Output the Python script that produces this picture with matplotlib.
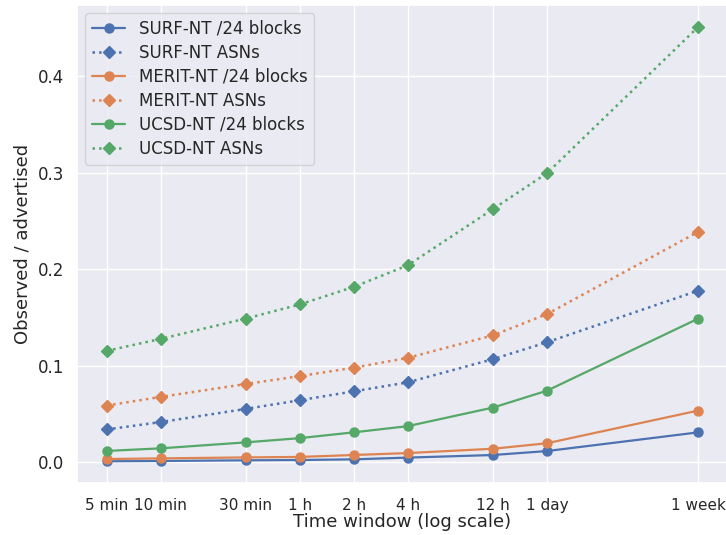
import matplotlib
matplotlib.use("Agg")
import matplotlib.pyplot as plt
import seaborn as sns
from matplotlib.ticker import NullLocator

sns.set_theme(style="darkgrid")
plt.rcParams['font.family'] = ['DejaVu Sans']

# Time windows in minutes
windows_min = [5, 10, 30, 60, 120, 240, 720, 1440, 10080]
window_labels = ["5 min", "10 min", "30 min", "1 h", "2 h", "4 h", "12 h", "1 day", "1 week"]

surf_blocks = [0.001, 0.0013, 0.002, 0.0023, 0.003, 0.0048, 0.0075, 0.0116, 0.031]
surf_asns = [0.034, 0.0416, 0.0553, 0.0643, 0.0735, 0.0828, 0.1069, 0.1244, 0.178]
merit_blocks = [0.0033, 0.004, 0.005, 0.0055, 0.0075, 0.0095, 0.014, 0.0197, 0.0536]
merit_asns = [0.0588, 0.0677, 0.0811, 0.0893, 0.098, 0.1082, 0.1316, 0.1536, 0.239]
ucsd_blocks = [0.0117, 0.0144, 0.0206, 0.025, 0.031, 0.0374, 0.0567, 0.0742, 0.149]
ucsd_asns = [0.1155, 0.1278, 0.149, 0.1636, 0.1818, 0.2041, 0.2626, 0.2997, 0.4515]

pal = sns.color_palette("deep")

fig = plt.figure(figsize=(7.26, 5.35), dpi=100)
ax = fig.add_axes([77 / 726, (535 - 483) / 535, (728 - 77) / 726, (483 - 5) / 535])

series = [
    ("SURF-NT /24 blocks", surf_blocks, pal[0], "-", "o"),
    ("SURF-NT ASNs", surf_asns, pal[0], ":", "D"),
    ("MERIT-NT /24 blocks", merit_blocks, pal[1], "-", "o"),
    ("MERIT-NT ASNs", merit_asns, pal[1], ":", "D"),
    ("UCSD-NT /24 blocks", ucsd_blocks, pal[2], "-", "o"),
    ("UCSD-NT ASNs", ucsd_asns, pal[2], ":", "D"),
]
for label, vals, color, ls, mk in series:
    ax.plot(windows_min, vals, linestyle=ls, marker=mk, color=color,
            linewidth=1.8 if ls == ":" else 1.6, markersize=6.5, label=label)

ax.set_xscale("log")
ax.set_xticks(windows_min)
ax.set_xticklabels(window_labels)
ax.xaxis.set_minor_locator(NullLocator())
ax.set_yticks([0.0, 0.1, 0.2, 0.3, 0.4])
ax.tick_params(axis="x", labelsize=11, pad=5)
ax.tick_params(axis="y", labelsize=12)
ax.set_xlabel("Time window (log scale)", fontsize=13, labelpad=0)
ax.set_ylabel("Observed / advertised", fontsize=13)
ax.legend(loc="upper left", fontsize=12, labelspacing=0.36)

fig.savefig("out.png", dpi=100)
